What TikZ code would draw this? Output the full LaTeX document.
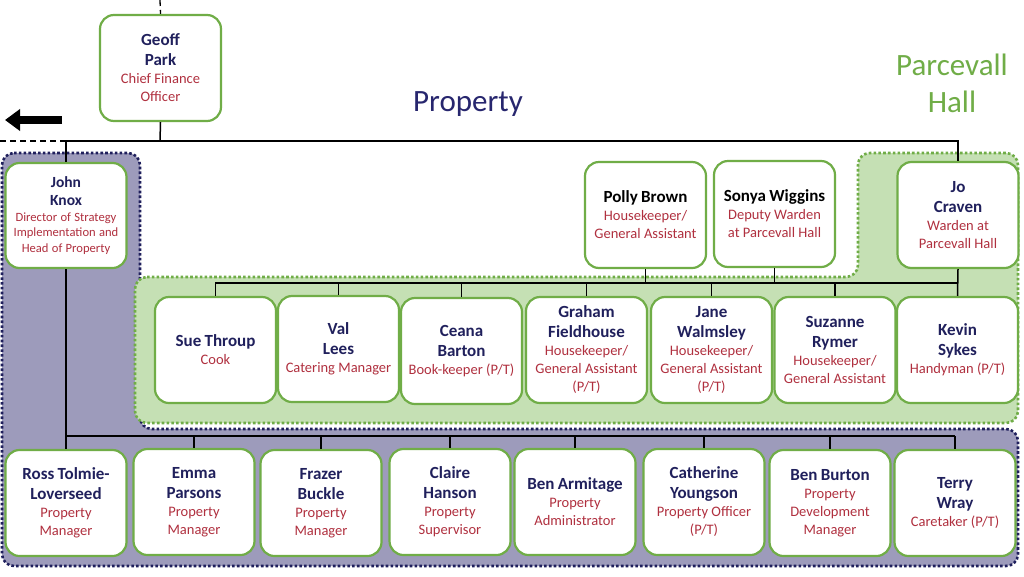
\documentclass[tikz,border=0pt]{standalone}
\usepackage{fontspec}
\setmainfont{Carlito}
\usetikzlibrary{arrows.meta}
\definecolor{nmc}{HTML}{20205C}
\definecolor{rlc}{HTML}{B0303F}
\definecolor{boxg}{HTML}{70AD47}
\definecolor{grfill}{HTML}{C5E0B4}
\definecolor{pufill}{HTML}{9D9BBB}
\definecolor{punav}{HTML}{1F1F5C}
\definecolor{ttl}{HTML}{27266E}
\newcommand\nm[1]{{\fontsize{17}{20}\selectfont\bfseries\color{nmc}#1\par}}
\newcommand\nmk[1]{{\fontsize{17}{20}\selectfont\bfseries\color{black}#1\par}}
\newcommand\rl[1]{{\fontsize{14.5}{18}\selectfont\color{rlc}#1\par}}
\begin{document}
\begin{tikzpicture}[x=1pt,y=-1pt,
  person/.style={draw=boxg,line width=2.2pt,fill=white,rounded corners=14pt,
    minimum width=121pt,minimum height=106pt,text width=120pt,align=center,inner sep=0.5pt},
  conn/.style={line width=1.5pt,black},
  dashconn/.style={line width=1.3pt,black,dash pattern=on 6pt off 4pt}]
\useasboundingbox[fill=white] (0,0) rectangle (1024,576);
% regions
\fill[pufill,rounded corners=12pt] (2,153) -- (140,153) -- (140,429) -- (1018,429) -- (1018,566) -- (2,566) -- cycle;
\draw[punav,line width=2.6pt,dash pattern=on 2.6pt off 2.2pt,rounded corners=12pt] (2,153) -- (140,153) -- (140,429) -- (1018,429) -- (1018,566) -- (2,566) -- cycle;
\filldraw[fill=grfill,draw=boxg,line width=2.6pt,dash pattern=on 2.6pt off 2.2pt,rounded corners=12pt] (135,277) -- (858,277) -- (858,153) -- (1018,153) -- (1018,423) -- (135,423) -- cycle;
% coordinates
\coordinate (topend) at (160,0);
\coordinate (dashend) at (0,141);
\coordinate (busA) at (160,141);
\coordinate (busB) at (0,283);
\coordinate (busC) at (0,436);
\coordinate (arrS) at (62,120);
\coordinate (arrE) at (5,120);
% nodes
\node[person] (geoff) at (160.5,68) {\nm{Geoff\\Park}\rl{Chief Finance\\Officer}};
\node[person,minimum width=120pt,minimum height=105pt] (john) at (66,215.5) {{\fontsize{15.5}{18}\selectfont\bfseries\color{nmc}John\\Knox\par}{\fontsize{12.6}{15.5}\selectfont\color{rlc}Director of Strategy\\Implementation and\\Head of Property\par}};
\node[person] (polly) at (645.5,215) {\nmk{Polly Brown}\rl{Housekeeper/\\General Assistant}};
\node[person] (sonya) at (774.5,214) {\nmk{Sonya Wiggins}\rl{Deputy Warden\\at Parcevall Hall}};
\node[person,minimum width=120pt] (jo) at (958,215) {\nm{Jo\\Craven}\rl{Warden at\\Parcevall Hall}};
% row 2
\node[person] (sue) at (215.5,350) {\nm{Sue Throup}\rl{Cook}};
\node[person] (val) at (338.5,349) {\nm{Val\\Lees}\rl{Catering Manager}};
\node[person] (ceana) at (461.5,351) {\nm{Ceana\\Barton}\rl{Book-keeper (P/T)}};
\node[person] (graham) at (586.5,350) {\nm{Graham\\Fieldhouse}\rl{Housekeeper/\\General Assistant\\(P/T)}};
\node[person] (jane) at (711.5,350) {\nm{Jane\\Walmsley}\rl{Housekeeper/\\General Assistant\\(P/T)}};
\node[person] (suzanne) at (835,350) {\nm{Suzanne\\Rymer}\rl{Housekeeper/\\General Assistant}};
\node[person] (kevin) at (957.5,350) {\nm{Kevin\\Sykes}\rl{Handyman (P/T)}};
% row 3
\node[person,minimum width=120pt] (ross) at (66,503) {\nm{Ross Tolmie-\\Loverseed}\rl{Property\\Manager}};
\node[person,minimum width=120pt] (emma) at (194,502) {\nm{Emma\\Parsons}\rl{Property\\Manager}};
\node[person,minimum width=120pt] (frazer) at (321,503) {\nm{Frazer\\Buckle}\rl{Property\\Manager}};
\node[person,minimum width=120pt] (claire) at (450,502) {\nm{Claire\\Hanson}\rl{Property\\Supervisor}};
\node[person,minimum width=120pt] (bena) at (575,502) {\nm{Ben Armitage}\rl{Property\\Administrator}};
\node[person,minimum width=120pt] (cath) at (704,502) {\nm{Catherine\\Youngson}\rl{Property Officer\\(P/T)}};
\node[person,minimum width=120pt] (benb) at (830,503) {\nm{Ben Burton}\rl{Property\\Development\\Manager}};
\node[person,minimum width=120pt] (terry) at (955,503) {\nm{Terry\\Wray}\rl{Caretaker (P/T)}};
% titles
\node[text=ttl,font=\fontsize{31}{36}\selectfont] (ttlprop) at (468,104) {Property};
\node[text=boxg,font=\fontsize{31}{37}\selectfont,align=center] (ttlpark) at (952,83) {Parcevall\\Hall};
% connectors
\draw[dashconn] (topend) -- (geoff.north);
\draw[dashconn] (dashend) -- (busA);
\draw[conn] (geoff.south) -- (busA);
\draw[conn] (john.north) |- (busA) -| (jo.north);
\draw[conn] (jo.south) -- (kevin.north);
\draw[conn] (sue.north) -- (sue.north |- busB) -- (kevin.north |- busB);
\foreach \n in {val,ceana,graham,jane,suzanne}{\draw[conn] (\n.north) -- (\n.north |- busB);}
\draw[conn] (polly.south) -- (polly.south |- busB);
\draw[conn] (sonya.south) -- (sonya.south |- busB);
\draw[conn] (john.south) -- (ross.north);
\draw[conn] (ross.north |- busC) -- (terry.north |- busC);
\foreach \n in {emma,frazer,claire,bena,cath,benb,terry}{\draw[conn] (\n.north) -- (\n.north |- busC);}
% arrow
\draw[line width=8pt,-{Triangle[length=15pt,width=21pt]}] (arrS) -- (arrE);
\end{tikzpicture}
\end{document}
